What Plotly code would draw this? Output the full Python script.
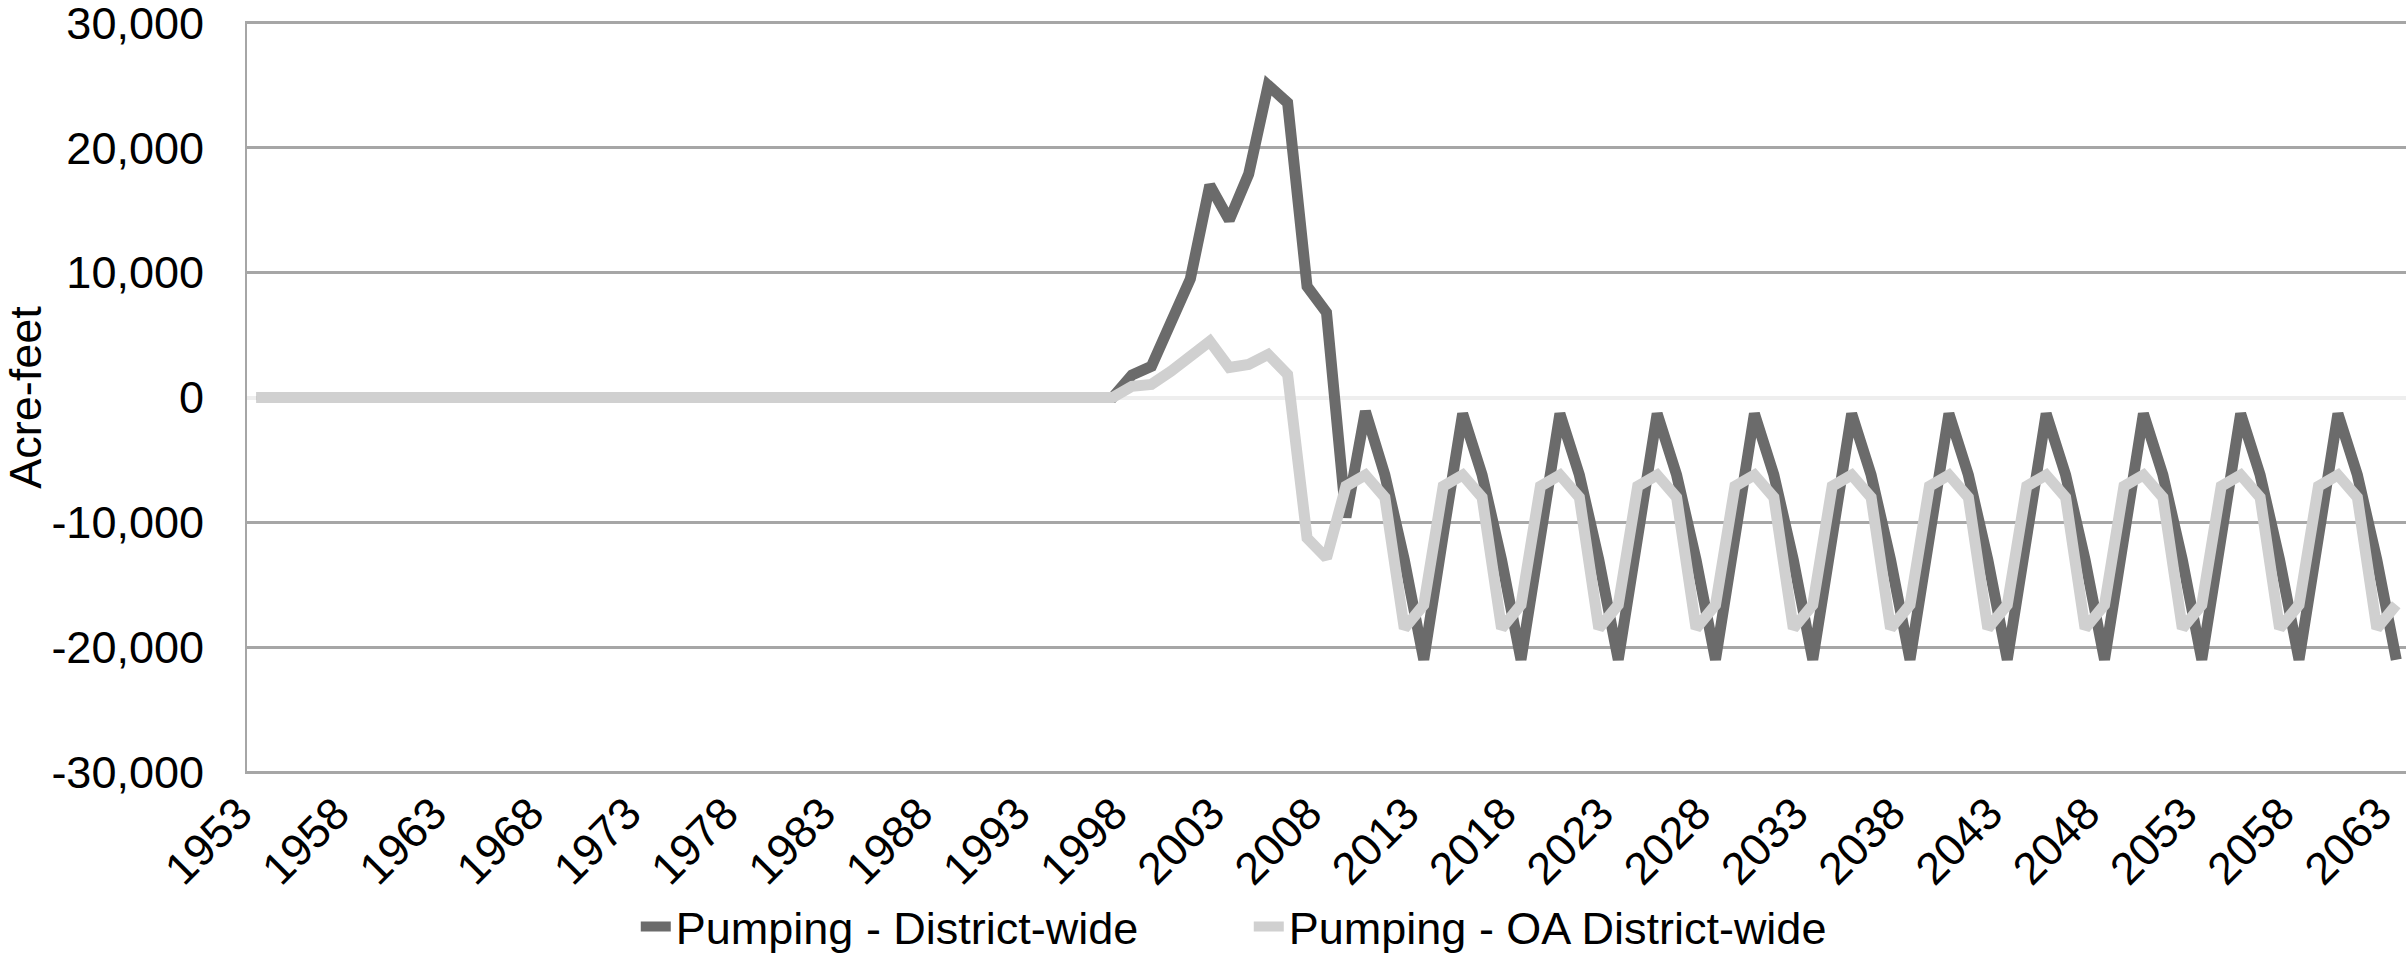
import plotly.graph_objects as go

# annual series, acre-feet
years = list(range(1953, 2064))

district_wide = [
    0, 0, 0, 0, 0, 0, 0, 0, 0, 0,
    0, 0, 0, 0, 0, 0, 0, 0, 0, 0,
    0, 0, 0, 0, 0, 0, 0, 0, 0, 0,
    0, 0, 0, 0, 0, 0, 0, 0, 0, 0,
    0, 0, 0, 0, 0,
    1800, 2500, 6000, 9500, 17000, 14200, 17900, 25000, 23600, 8900, 6800,
    -9600, -1100, -6200, -13000, -21000, -11000,
    -1300, -6200, -13000, -21000, -11000,
    -1300, -6200, -13000, -21000, -11000,
    -1300, -6200, -13000, -21000, -11000,
    -1300, -6200, -13000, -21000, -11000,
    -1300, -6200, -13000, -21000, -11000,
    -1300, -6200, -13000, -21000, -11000,
    -1300, -6200, -13000, -21000, -11000,
    -1300, -6200, -13000, -21000, -11000,
    -1300, -6200, -13000, -21000, -11000,
    -1300, -6200, -13000, -21000,
]

oa_district_wide = [
    0, 0, 0, 0, 0, 0, 0, 0, 0, 0,
    0, 0, 0, 0, 0, 0, 0, 0, 0, 0,
    0, 0, 0, 0, 0, 0, 0, 0, 0, 0,
    0, 0, 0, 0, 0, 0, 0, 0, 0, 0,
    0, 0, 0, 0, 0,
    900, 1050, 2100, 3300, 4500, 2400, 2650, 3450, 1850, -11250, -12850,
    -7100, -6200, -8000, -18500, -16600,
    -7100, -6200, -8000, -18500, -16600,
    -7100, -6200, -8000, -18500, -16600,
    -7100, -6200, -8000, -18500, -16600,
    -7100, -6200, -8000, -18500, -16600,
    -7100, -6200, -8000, -18500, -16600,
    -7100, -6200, -8000, -18500, -16600,
    -7100, -6200, -8000, -18500, -16600,
    -7100, -6200, -8000, -18500, -16600,
    -7100, -6200, -8000, -18500, -16600,
    -7100, -6200, -8000, -18500, -16600,
]

assert len(district_wide) == len(years) == len(oa_district_wide)

tick_years = years[::5]
y_ticks = [-30000, -20000, -10000, 0, 10000, 20000, 30000]

FONT = "Liberation Sans, Arial, sans-serif"
GRID = "#a6a6a6"

fig = go.Figure()
fig.add_trace(go.Scatter(
    x=years, y=district_wide, mode="lines",
    name="Pumping - District-wide",
    line=dict(color="#6b6b6b", width=11),
))
fig.add_trace(go.Scatter(
    x=years, y=oa_district_wide, mode="lines",
    name="Pumping - OA District-wide",
    line=dict(color="#d0d0d0", width=11),
))

fig.update_layout(
    width=2406, height=954,
    margin=dict(l=247, r=0, t=21, b=180, autoexpand=False),
    plot_bgcolor="white", paper_bgcolor="white",
    font=dict(family=FONT, color="black", size=43),
    showlegend=True,
    legend=dict(
        orientation="h", x=0.464, xanchor="center", y=-0.203, yanchor="middle",
        font=dict(size=45), itemwidth=30, entrywidth=568,
        bgcolor="rgba(0,0,0,0)",
    ),
    xaxis=dict(
        range=[1952.5, 2063.5], automargin=False,
        tickmode="array", tickvals=tick_years,
        ticktext=[str(y) for y in tick_years],
        tickangle=-45, tickfont=dict(size=45),
        showgrid=False, zeroline=False, showline=False, ticks="",
        ticklabelstandoff=3, ticklabelshift=-18, ticklabeloverflow="allow",
    ),
    # light category axis crossing at y=0
    xaxis2=dict(
        overlaying="x", anchor="free", position=0.5, side="bottom",
        range=[1952.5, 2063.5], automargin=False,
        tickmode="array", tickvals=[y - 0.5 for y in years] + [2063.5],
        ticks="outside", ticklen=13, tickwidth=2, tickcolor="#e6e6e6",
        showticklabels=False, showgrid=False, zeroline=False, showline=False,
        layer="below traces",
    ),
    yaxis=dict(
        range=[-30150, 30150], automargin=False,
        tickmode="array", tickvals=y_ticks,
        ticktext=[f"{v:,}" for v in y_ticks],
        tickfont=dict(size=45), ticklabeloverflow="allow",
        showgrid=True, gridcolor=GRID, gridwidth=3,
        zeroline=True, zerolinecolor="#eeeeee", zerolinewidth=4,
        showline=True, linecolor=GRID, linewidth=2,
        ticks="", ticklabelstandoff=32,
        title=dict(text="Acre-feet", font=dict(size=45), standoff=21),
    ),
)

# drop the browser's default page margin so the figure sits at the window corner
fig.write_html(
    "out.html",
    config={"displayModeBar": False},
    post_script="document.body.style.margin='0';",
)
